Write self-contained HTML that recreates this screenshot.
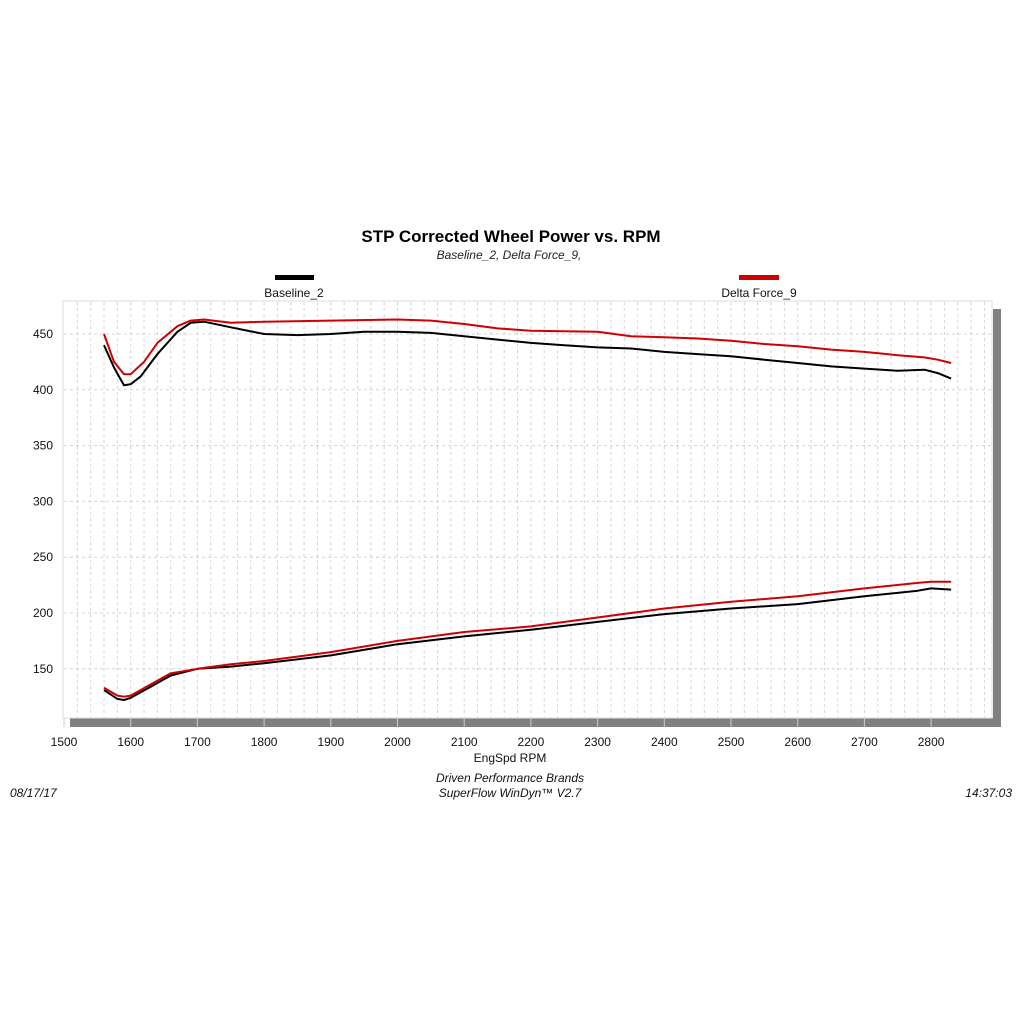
<!DOCTYPE html>
<html><head><meta charset="utf-8"><style>
html,body{margin:0;padding:0;background:#fff;}
svg{display:block;font-family:"Liberation Sans",sans-serif;}
</style></head><body>
<svg width="1024" height="1024" viewBox="0 0 1024 1024">
<rect x="0" y="0" width="1024" height="1024" fill="#fff"/>
<text x="511" y="242" text-anchor="middle" font-size="17" font-weight="bold" fill="#000">STP Corrected Wheel Power vs. RPM</text>
<text x="509" y="259" text-anchor="middle" font-size="12" font-style="italic" fill="#222">Baseline_2, Delta Force_9,</text>
<g>
<rect x="275" y="275" width="39" height="5" fill="#000"/>
<text x="294" y="297" text-anchor="middle" font-size="12" fill="#111">Baseline_2</text>
<rect x="739" y="275" width="40" height="5" fill="#d00000"/>
<text x="759" y="297" text-anchor="middle" font-size="12" fill="#111">Delta Force_9</text>
</g>
<rect x="993" y="309" width="8" height="418" fill="#808080"/>
<rect x="70" y="718" width="931" height="9" fill="#808080"/>
<rect x="63" y="301" width="929" height="417" fill="#fff" stroke="#ddd"/>
<g id="grid"></g>
<g id="axes"></g>
<g id="series"></g>
<text x="510" y="762" text-anchor="middle" font-size="12" fill="#111">EngSpd  RPM</text>
<text x="510" y="782" text-anchor="middle" font-size="12" font-style="italic" fill="#111">Driven Performance Brands</text>
<text x="510" y="797" text-anchor="middle" font-size="12" font-style="italic" fill="#111">SuperFlow WinDyn™  V2.7</text>
<text x="10" y="797" font-size="12" font-style="italic" fill="#111">08/17/17</text>
<text x="1012" y="797" text-anchor="end" font-size="12" font-style="italic" fill="#111">14:37:03</text>
</svg>
<script>
const xTicks=[1500,1600,1700,1800,1900,2000,2100,2200,2300,2400,2500,2600,2700,2800];
const yTicks=[150,200,250,300,350,400,450];
const baseHpRpm=[1560,1575,1590,1600,1615,1640,1670,1690,1710,1750,1800,1850,1900,1950,2000,2050,2100,2150,2200,2250,2300,2350,2400,2450,2500,2550,2600,2650,2700,2750,2790,2810,2830];
const baseHp=[440,420,404,405,412,432,452,460,461,456,450,449,450,452,452,451,448,445,442,440,438,437,434,432,430,427,424,421,419,417,418,415,410];
const deltaHpRpm=[1560,1575,1590,1600,1620,1640,1670,1690,1710,1750,1800,1900,2000,2050,2100,2150,2200,2300,2350,2400,2450,2500,2550,2600,2650,2700,2750,2790,2810,2830];
const deltaHp=[450,425,414,414,425,442,457,462,463,460,461,462,463,462,459,455,453,452,448,447,446,444,441,439,436,434,431,429,427,424];
const baseTqRpm=[1560,1580,1590,1600,1630,1660,1700,1750,1800,1900,2000,2100,2200,2300,2400,2500,2600,2700,2780,2800,2830];
const baseTq=[131,123,122,124,134,144,150,152,155,162,172,179,185,192,199,204,208,215,220,222,221];
const deltaTqRpm=[1560,1580,1590,1600,1630,1660,1700,1750,1800,1900,2000,2100,2200,2300,2400,2500,2600,2700,2780,2800,2830];
const deltaTq=[133,126,125,126,136,146,150,154,157,165,175,183,188,196,204,210,215,222,227,228,228];

const NS="http://www.w3.org/2000/svg";
function xs(r){return 64+(r-1500)*0.667;}
function ys(v){return 334+(450-v)*1.116;}
function mk(tag,attrs,parent){const e=document.createElementNS(NS,tag);for(const k in attrs)e.setAttribute(k,attrs[k]);parent.appendChild(e);return e;}
const grid=document.getElementById('grid');
for(let r=1520;r<=2880;r+=20){
  const l=mk('line',{x1:xs(r),x2:xs(r),y1:302,y2:717,stroke:'#d4d4d4','stroke-dasharray':'3,3','stroke-width':1},grid);
  
  
}
const axes=document.getElementById('axes');
yTicks.forEach(v=>{
  const l=mk('line',{x1:64,x2:991,y1:ys(v),y2:ys(v),stroke:'#d4d4d4','stroke-dasharray':'3,3'},grid);
  
  
  const t=mk('text',{x:43,y:ys(v)+4,'text-anchor':'middle','font-size':12,fill:'#111'},axes);
  t.textContent=v;
  
  
});
xTicks.forEach(r=>{
  const t=mk('text',{x:xs(r),y:746,'text-anchor':'middle','font-size':12,fill:'#111'},axes);
  t.textContent=r;
  
  
  const k=mk('line',{x1:xs(r),x2:xs(r),y1:718,y2:727,stroke:'#ccc'},axes);
  
  
});
const series=document.getElementById('series');
function draw(rpm,vals,color,name){
  const d=rpm.map((r,i)=>(i?'L':'M')+xs(r).toFixed(1)+','+ys(vals[i]).toFixed(1)).join(' ');
  const p=mk('path',{d:d,fill:'none',stroke:color,'stroke-width':2,'stroke-linejoin':'round'},series);
  
  
}
draw(baseTqRpm,baseTq,'#000','baseline-lower-line');
draw(deltaTqRpm,deltaTq,'#d00000','delta-force-lower-line');
draw(baseHpRpm,baseHp,'#000','baseline-upper-line');
draw(deltaHpRpm,deltaHp,'#d00000','delta-force-upper-line');
</script>
</body></html>
